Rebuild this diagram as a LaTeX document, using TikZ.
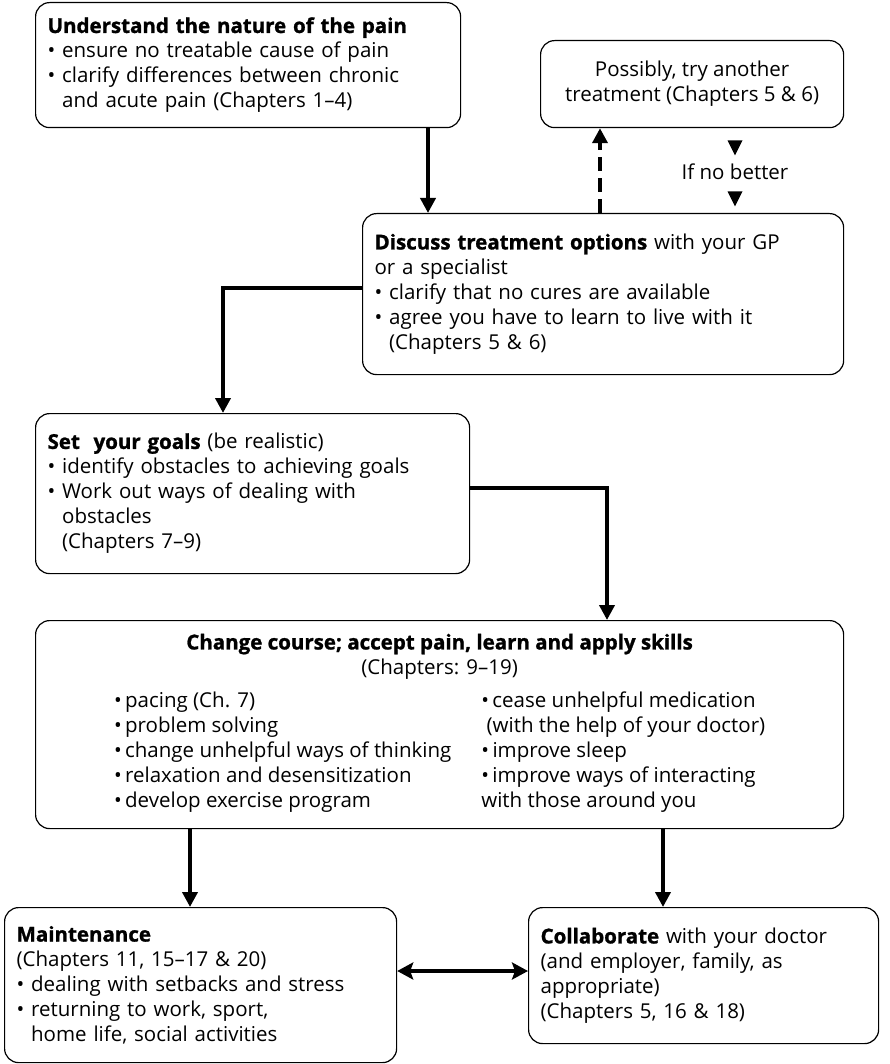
\documentclass[tikz,border=0pt]{standalone}
\usepackage{fontspec}
\setmainfont{Open Sans}[BoldFeatures={FakeBold=1.2}]
\usetikzlibrary{arrows.meta,positioning,shapes.geometric}
\newcommand\bul{\textbullet\ }
\newcommand\ind{\phantom{\textbullet\ }}
\begin{document}
\begin{tikzpicture}[x=1pt, y=-1pt,
	boite/.style={draw, rounded corners=14pt, line width=1.2pt, anchor=north west,
		inner xsep=12pt, inner ysep=5pt, align=left,
		font=\fontsize{20.5}{25}\selectfont},
	fleche/.style={line width=4pt, -{Triangle[length=15pt,width=15pt]}},
	pointe/.style={isosceles triangle, isosceles triangle stretches, shape border rotate=270,
		fill, minimum width=15pt, minimum height=15pt, inner sep=0pt},
]
	%\draw[help lines] (0,0) grid[step=50] (890,1064);
	\useasboundingbox (0,0) rectangle (890,1064);
	\node[boite, text width=401pt, minimum height=125pt] (nature) at (35,2)
		{\textbf{Understand the nature of the pain}\\
		\bul ensure no treatable cause of pain\\
		\bul clarify differences between chronic\\
		\ind and acute pain (Chapters 1--4)};
	\node[boite, align=center, minimum width=303pt, minimum height=87pt] (autre) at (540,40)
		{Possibly, try another\\ treatment (Chapters 5 \& 6)};
	\node[boite, text width=457pt, minimum height=161pt] (discuss) at (362,213)
		{\textbf{Discuss treatment options} with your GP\\
		or a specialist\\
		\bul clarify that no cures are available\\
		\bul agree you have to learn to live with it\\
		\ind (Chapters 5 \& 6)};
	\node[boite, text width=410pt, minimum height=160pt] (goals) at (35,413)
		{\textbf{Set\ \ your goals} (be realistic)\\
		\bul identify obstacles to achieving goals\\
		\bul Work out ways of dealing with\\
		\ind obstacles\\
		\ind (Chapters 7--9)};
	\node[boite, align=center, minimum width=808pt, minimum height=208pt] (change) at (35,620)
		{\textbf{Change course; accept pain, learn and apply skills}\\
		(Chapters: 9--19)\\[10pt]
		\begin{tabular}{@{}l@{\hspace{30pt}}l@{}}
		\textbullet\,pacing (Ch. 7) & \textbullet\,cease unhelpful medication\\
		\textbullet\,problem solving & \ (with the help of your doctor)\\
		\textbullet\,change unhelpful ways of thinking & \textbullet\,improve sleep\\
		\textbullet\,relaxation and desensitization & \textbullet\,improve ways of interacting\\
		\textbullet\,develop exercise program & with those around you
		\end{tabular}};
	\node[boite, text width=368pt, minimum height=155pt] (maint) at (4,907)
		{\textbf{Maintenance}\\
		(Chapters 11, 15--17 \& 20)\\
		\bul dealing with setbacks and stress\\
		\bul returning to work, sport,\\
		\ind home life, social activities};
	\node[boite, text width=326pt, minimum height=136pt] (collab) at (528,907)
		{\textbf{Collaborate} with your doctor\\
		(and employer, family, as\\
		appropriate)\\
		(Chapters 5, 16 \& 18)};
	\node[font=\fontsize{20.5}{25}\selectfont] (nobetter) at (735,172) {If no better};
	\node[pointe] (haut) at (735,145) {};
	\node[pointe] (bas) at (735,196) {};
	% liaisons
	\coordinate (c1) at (428,0);
	\coordinate (c2) at (600,0);
	\coordinate (c3) at (223,0);
	\coordinate (c4) at (607,0);
	\coordinate (c5) at (190,0);
	\coordinate (c6) at (663,0);
	\coordinate (r1) at (0,971);
	\draw[fleche] (nature.south -| c1) -- (discuss.north -| c1);
	\draw[fleche, dash pattern=on 14pt off 7pt] (discuss.north -| c2) -- (autre.south -| c2);
	\draw[fleche] ([yshift=6pt]discuss.west) -| (goals.north -| c3);
	\draw[fleche] ([yshift=6pt]goals.east) -| (change.north -| c4);
	\draw[fleche] (change.south -| c5) -- (maint.north -| c5);
	\draw[fleche] (change.south -| c6) -- (collab.north -| c6);
	\draw[line width=4pt, {Stealth[length=16pt,width=17pt,inset=3pt]}-{Stealth[length=16pt,width=17pt,inset=3pt]}]
		(maint.east |- r1) -- (collab.west |- r1);
\end{tikzpicture}
\end{document}
